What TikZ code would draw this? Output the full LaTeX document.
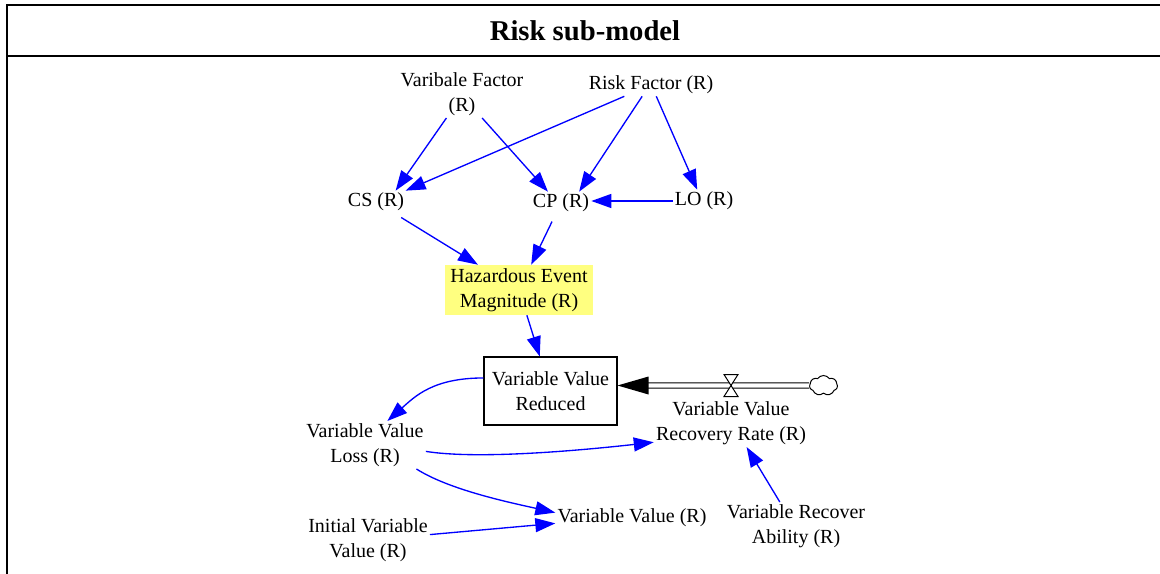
\documentclass[tikz,border=0pt]{standalone}
\usepackage{fontspec}
\setmainfont{Liberation Serif}
\usetikzlibrary{arrows.meta,shapes.symbols}
\definecolor{hazy}{RGB}{255,255,128}
\begin{document}
\begin{tikzpicture}[x=0.75pt,y=-0.75pt,
  lbl/.style={font=\fontsize{15pt}{19pt}\selectfont, align=center, inner sep=1.5pt},
  arr/.style={draw=blue, line width=1pt, -{Triangle[length=15pt,width=10.5pt]}},
  framed/.style={line width=1.7pt, line cap=rect},
  stockbox/.style={lbl, draw, line width=0.8pt, minimum width=99.75pt, minimum height=51pt},
  hazbox/.style={lbl, fill=hazy, minimum width=111pt, minimum height=37.5pt},
  pipe/.style={draw, line width=0.75pt, double, double distance=3.2pt},
  valvest/.style={draw, line width=0.75pt, fill=white},
  cloudst/.style={cloud, draw, line width=0.75pt, cloud puffs=7, cloud puff arc=110, aspect=1.3, minimum width=21pt, minimum height=15pt, inner sep=0pt}
]
\useasboundingbox (0,0) rectangle (1160,574);
\clip (0,0) rectangle (1160,574);
\fill[white] (0,0) rectangle (1160,574);
% frame
\draw[framed] (7,600) -- (7,5) -- (1180,5);
\draw[framed] (7,56) -- (1180,56);
\node[font=\fontsize{21.5pt}{24pt}\selectfont\bfseries, inner sep=0pt] (title) at (585,31) {Risk sub-model};

% variables
\node[lbl] (vf) at (462,94) {Varibale Factor\\(R)};
\node[lbl] (rf) at (651,85) {Risk Factor (R)};
\node[lbl] (cs) at (376,202) {CS (R)};
\node[lbl] (cp) at (561,203) {CP (R)};
\node[lbl] (lo) at (704,201) {LO (R)};
\node[hazbox] (haz) at (519,290) {Hazardous Event\\Magnitude (R)};
\node[stockbox] (st) at (550.5,391) {Variable Value\\Reduced};
\node[lbl] (rr) at (731,423) {Variable Value\\Recovery Rate (R)};
\node[lbl] (loss) at (365,445) {Variable Value\\Loss (R)};
\node[lbl] (init) at (368,540) {Initial Variable\\Value (R)};
\node[lbl] (vv) at (632,518) {Variable Value (R)};
\node[lbl] (ab) at (796,526) {Variable Recover\\Ability (R)};

% flow
\coordinate (pipeend) at ([shift={(0,-5.5)}]st.east);
\node[cloudst] (cld) at (823.5,385.5) {};
\coordinate (valve) at (731,385.5);
\draw[pipe] (cld.west) -- ([shift={(30,0)}]pipeend);
\fill (pipeend) -- ++(31,-9) -- ++(0,18) -- cycle;
\draw[valvest] ([shift={(-7,-11)}]valve) -- ([shift={(7,-11)}]valve) -- ([shift={(-7,11)}]valve) -- ([shift={(7,11)}]valve) -- cycle;

% links
\draw[arr] (vf.237) -- (cs.30);
\draw[arr] (vf.-50) -- (cp.139);
\draw[arr] (rf.203) -- (cs.21);
\draw[arr] (rf.232) -- (cp.32);
\draw[arr] (rf.-65) -- (lo.121);
\draw[arr] (lo.west) -- (lo.west -| cp.east);
\draw[arr, shorten <=6pt] (cs) -- (haz);
\draw[arr, shorten <=6pt] (cp) -- (haz);
\draw[arr] (haz) -- (st);
\draw[arr] (st.169) .. controls +(-50,0) and +(28,-25) .. (loss.47);
\draw[arr] (loss.-6) .. controls +(50,8) and +(-81,9) .. (rr.194);
\draw[arr] (loss.-25) .. controls +(33,21) and +(-45,-10) .. (vv.176);
\draw[arr] (init.5) -- (vv.184);
\draw[arr] (ab.124) -- (rr.-57);
\end{tikzpicture}
\end{document}
